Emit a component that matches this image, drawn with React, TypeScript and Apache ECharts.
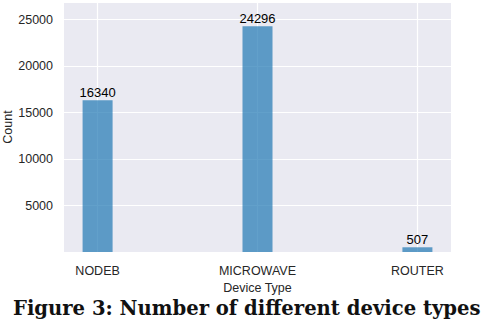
import React, { useEffect, useRef } from "react";
import * as echarts from "echarts";

const categories = ["NODEB", "MICROWAVE", "ROUTER"];
const counts = [16340, 24296, 507];
const yTicks = [5000, 10000, 15000, 20000, 25000];

export default function App() {
  const ref = useRef<HTMLDivElement>(null);
  useEffect(() => {
    if (!ref.current) return;
    const chart = echarts.init(ref.current, null, { renderer: "svg" });
    const sans = "Liberation Sans, Arial, sans-serif";
    chart.setOption({
      animation: false,
      backgroundColor: "#ffffff",
      title: {
        text: "Figure 3: Number of different device types",
        left: 13,
        top: 298,
        padding: 0,
        textStyle: {
          fontFamily: "DejaVu Serif, serif",
          fontWeight: "bold",
          fontSize: 19.6,
          color: "#111",
        },
      },
      grid: {
        left: 64,
        top: 2,
        right: 35,
        bottom: 70,
        show: true,
        containLabel: false,
        outerBoundsMode: "none",
        backgroundColor: "#eaeaf2",
        borderWidth: 0,
      },
      xAxis: {
        type: "value",
        min: -0.21,
        max: 2.21,
        name: "Device Type",
        nameLocation: "middle",
        nameGap: 29,
        nameMoveOverlap: false,
        nameTextStyle: { fontFamily: sans, fontSize: 12.5, color: "#262626" },
        axisLine: { show: false },
        axisTick: { show: false, customValues: categories.map((_, i) => i) },
        axisLabel: {
          customValues: categories.map((_, i) => i),
          formatter: (v: number) => categories[Math.round(v)] ?? "",
          fontFamily: sans,
          fontSize: 12.5,
          color: "#262626",
          margin: 12,
        },
        splitLine: { show: true, lineStyle: { color: "#ffffff", width: 1.2 } },
      },
      yAxis: {
        type: "value",
        min: 0,
        max: 26900,
        interval: 5000,
        name: "Count",
        nameLocation: "middle",
        nameRotate: 90,
        nameGap: 50,
        nameMoveOverlap: false,
        nameTextStyle: { fontFamily: sans, fontSize: 12.5, color: "#262626" },
        axisLine: { show: false },
        axisTick: { show: false },
        axisLabel: {
          showMinLabel: false,
          showMaxLabel: false,
          fontFamily: sans,
          fontSize: 12.5,
          color: "#262626",
          margin: 11,
          formatter: (v: number) => (yTicks.includes(v) ? String(v) : ""),
        },
        splitLine: { show: true, lineStyle: { color: "#ffffff", width: 1.2 } },
      },
      series: [
        {
          type: "bar",
          data: counts.map((c, i) => [i, c]),
          barWidth: 30,
          itemStyle: { color: "rgba(31,119,180,0.7)" },
          label: {
            show: true,
            position: "top",
            distance: 1,
            fontFamily: sans,
            fontSize: 13,
            color: "#000",
          },
        },
      ],
    });
    return () => chart.dispose();
  }, []);
  return (
    <div
      ref={ref}
      style={{ position: "fixed", left: 0, top: 0, width: 486, height: 322 }}
    />
  );
}
